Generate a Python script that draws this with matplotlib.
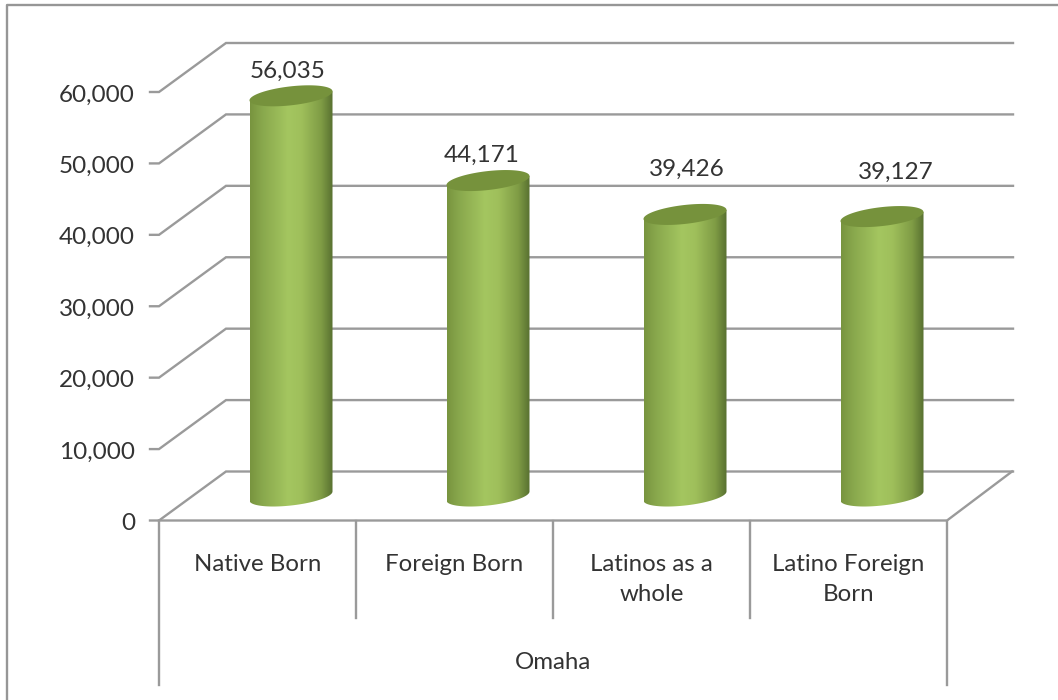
import matplotlib
matplotlib.use("Agg")
import matplotlib.pyplot as plt
import numpy as np
from matplotlib.colors import LinearSegmentedColormap
from matplotlib.patches import Polygon

categories = ["Native Born", "Foreign Born", "Latinos as a\nwhole", "Latino Foreign\nBorn"]
values = [56035, 44171, 39426, 39127]
value_labels = ["56,035", "44,171", "39,426", "39,127"]
yticks = [0, 10000, 20000, 30000, 40000, 50000, 60000]
group_label = "Omaha"

plt.rcParams["font.family"] = ["Lato", "DejaVu Sans"]

W, H = 1058, 700
fig = plt.figure(figsize=(W / 100, H / 100), dpi=100)
ax = fig.add_axes([0, 0, 1, 1])

# one category = 197 px, 60000 = 428.5 px, zero at (159, 520.5)
px_x = 197.0
px_y = 428.5 / 60000
ax.set_xlim(-159 / px_x, (W - 159) / px_x)
ax.set_ylim(-(H - 520.5) / px_y, 520.5 / px_y)
ax.axis("off")

depth_x = 67 / px_x
depth_y = 49 / px_y
n = len(categories)
gray = "#9a9a9a"
txt = "#333333"

# frame round the chart: only top and left are inside the picture
fig.add_artist(plt.Line2D([7 / W, 7 / W, 1], [0, 1 - 5 / H, 1 - 5 / H], color="#969696", lw=1.7))

# walls: side gridlines and back gridlines
for v in yticks:
    ax.plot([-9 / px_x, 0, depth_x, n + depth_x - 0.005], [v, v, v + depth_y, v + depth_y],
            color=gray, lw=1.7, zorder=2, solid_joinstyle="miter")
    ax.text(-24 / px_x, v - 3 / px_y, f"{v:,}", ha="right", va="center", fontsize=17.5, color=txt)

# floor
ax.plot([0, n, n + depth_x - 0.01], [0, 0, depth_y], color=gray, lw=1.7, zorder=2)

# category axis
for i in range(n + 1):
    low = -164 / px_y if i in (0, n) else -97 / px_y
    ax.plot([i, i], [0, low], color=gray, lw=1.7, zorder=2)
for i, c in enumerate(categories):
    if "\n" in c:
        ax.text(i + 0.5, -59 / px_y, c, ha="center", va="center", fontsize=17.3, color=txt, linespacing=1.53)
    else:
        ax.text(i + 0.5, -44 / px_y, c, ha="center", va="center", fontsize=17.3, color=txt)
ax.text(n / 2, -142 / px_y, group_label, ha="center", va="center", fontsize=17.3, color=txt)

# cylinders
radius = 41.5 / px_x
ry = 9.5 / px_y
shear = 4.5 / px_y
cmap = LinearSegmentedColormap.from_list(
    "cyl", [(0, "#78943f"), (0.14, "#88a74c"), (0.46, "#a4c660"), (0.62, "#9fbf5b"),
            (0.86, "#7f9c45"), (1, "#587030")])
grad = np.linspace(0, 1, 256).reshape(1, -1)
t = np.linspace(0, 2 * np.pi, 121)
label_dx = [-3, -6, 2, 14]
label_dy = [24, 25, 45, 44]

for i, v in enumerate(values):
    cx = i + 0.5 + depth_x / 2
    base = depth_y / 2
    top = v + depth_y / 2
    tb = np.linspace(np.pi, 2 * np.pi, 60)
    xs = cx + radius * np.cos(tb)
    bottom_edge = base + ry * np.sin(tb) + shear * np.cos(tb)
    top_edge = top + shear * np.cos(tb[::-1])
    body = Polygon(np.r_[np.c_[xs, bottom_edge], np.c_[xs[::-1], top_edge]],
                   closed=True, fc="none", ec="none", transform=ax.transData)
    ax.add_patch(body)
    im = ax.imshow(grad, extent=[cx - radius, cx + radius, base - 2 * ry, top + 2 * ry],
                   cmap=cmap, aspect="auto", zorder=3, interpolation="bilinear")
    im.set_clip_path(body)
    ax.fill(cx + radius * np.cos(t), top + ry * np.sin(t) + shear * np.cos(t),
            color="#76923c", zorder=4, lw=0)
    ax.text(cx + label_dx[i] / px_x, top + label_dy[i] / px_y, value_labels[i],
            ha="center", va="center", fontsize=17.5, color=txt, zorder=5)

ax.set_xlim(-159 / px_x, (W - 159) / px_x)
ax.set_ylim(-(H - 520.5) / px_y, 520.5 / px_y)
fig.savefig("out.png", dpi=100, facecolor="white")
